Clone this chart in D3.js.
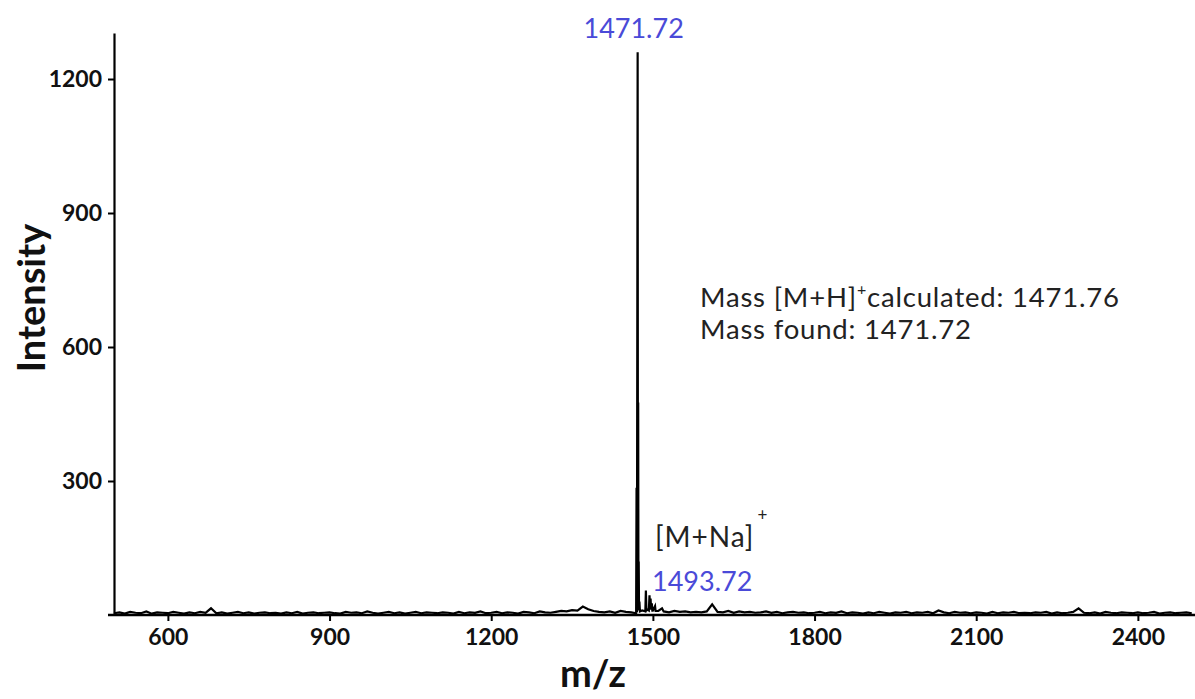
<!DOCTYPE html>
<html>
<head>
<meta charset="utf-8">
<script src="https://cdn.jsdelivr.net/npm/d3@7/dist/d3.min.js"></script>
<style>
  body { margin: 0; background: #fff; }
  svg { display: block; }
  .tick text { font-family: Lato, "Open Sans", sans-serif; font-weight: 700; font-size: 23px; fill: #111; }
</style>
</head>
<body>
<svg id="chart"></svg>
<script>
// baseline noise, one value every 10 m/z from 500 to 2500
var noiseStart = 500, noiseStep = 10;
var noise = [
  4,6,3,7,5,4,8,3,6,5,
  4,7,5,3,6,4,7,5,15,4,
  6,3,5,7,4,6,3,5,6,4,
  5,3,6,4,7,3,5,6,4,5,
  6,4,3,7,5,6,4,8,5,3,
  5,7,4,6,3,5,7,4,6,5,
  4,6,5,3,7,4,6,5,8,4,
  5,7,4,6,5,3,7,6,4,8,
  6,5,7,9,8,11,10,19,13,9,
  7,6,8,5,9,7,6,8,10,12,
  10,9,8,6,9,7,8,6,7,6,
  8,24,7,6,9,5,8,6,7,5,
  6,8,5,7,4,6,7,5,6,4,
  5,7,4,6,5,8,4,6,5,3,
  6,4,7,5,3,6,5,7,4,6,
  5,7,4,10,6,4,7,5,6,4,
  6,5,3,7,4,6,5,7,4,5,
  4,6,5,7,3,6,4,5,7,15,
  5,4,6,3,7,5,4,6,5,4,
  6,4,5,7,3,5,6,4,5,6,
  4
];

// molecular ion cluster
var clusterMz = [1468.9, 1469.7, 1470.4, 1471.72, 1472.3, 1472.72, 1473.2, 1473.7, 1474.3, 1475, 1476,
                 1486, 1487, 1488, 1492.5, 1493.72, 1494.7, 1495.7, 1496.7, 1498, 1499, 1504, 1505, 1517];
var clusterInt = [4, 285, 6, 1260, 20, 476, 15, 120, 10, 30, 8,
                  8, 55, 10, 10, 44, 15, 37, 12, 26, 10, 20, 9, 15];

var xTicks = [600, 900, 1200, 1500, 1800, 2100, 2400];
var yTicks = [300, 600, 900, 1200];

var W = 1195, H = 699;
var svg = d3.select("#chart").attr("width", W).attr("height", H);

var x = d3.scaleLinear().domain([500, 2506]).range([114, 1195]);
var y = d3.scaleLinear().domain([0, 1303]).range([615, 33]);

// merge the points into one spectrum
var pts = noise.map(function (v, i) { return { mz: noiseStart + i * noiseStep, v: v }; });
clusterMz.forEach(function (m, i) { pts.push({ mz: m, v: clusterInt[i] }); });
pts.sort(function (a, b) { return a.mz - b.mz; });

var line = d3.line()
  .x(function (d) { return x(d.mz); })
  .y(function (d) { return y(d.v); });

svg.append("path")
  .datum(pts)
  .attr("fill", "none")
  .attr("stroke", "#000")
  .attr("stroke-width", 2.2)
  .attr("d", line);

// axes
var fmt = d3.format("d");
var xAxis = svg.append("g")
  .attr("transform", "translate(0," + y(0) + ")")
  .call(d3.axisBottom(x).tickValues(xTicks).tickFormat(fmt).tickSize(6).tickPadding(8).tickSizeOuter(0));
xAxis.select(".domain").remove();
xAxis.selectAll(".tick line").attr("stroke", "#000").attr("stroke-width", 2);
svg.append("line")
  .attr("x1", 108).attr("x2", W)
  .attr("y1", y(0)).attr("y2", y(0))
  .attr("stroke", "#000").attr("stroke-width", 2.4);

var yAxis = svg.append("g")
  .attr("transform", "translate(" + x(500) + ",0)")
  .call(d3.axisLeft(y).tickValues(yTicks).tickFormat(fmt).tickSize(6).tickPadding(6).tickSizeOuter(0));
yAxis.select(".domain").attr("stroke", "#000").attr("stroke-width", 2.2);
yAxis.selectAll(".tick line").attr("stroke", "#000").attr("stroke-width", 2);

// axis titles
svg.append("text")
  .attr("transform", "translate(45,298) rotate(-90)")
  .attr("text-anchor", "middle")
  .style("font-family", "Lato, 'Open Sans', sans-serif")
  .style("font-weight", 700)
  .style("font-size", "38px")
  .attr("fill", "#111")
  .text("Intensity");

svg.append("text")
  .attr("x", 593).attr("y", 687)
  .attr("text-anchor", "middle")
  .style("font-family", "Lato, 'Open Sans', sans-serif")
  .style("font-weight", 700)
  .style("font-size", "38px")
  .attr("fill", "#111")
  .text("m/z");

// peak labels
var blue = "#4a4ad8";
svg.append("text")
  .attr("x", x(1471.72) - 4).attr("y", 38)
  .attr("text-anchor", "middle")
  .style("font-family", "Lato, 'Open Sans', sans-serif")
  .style("font-size", "27px")
  .attr("fill", blue)
  .text("1471.72");

svg.append("text")
  .attr("x", 652).attr("y", 591)
  .style("font-family", "Lato, 'Open Sans', sans-serif")
  .style("font-size", "27px")
  .attr("fill", blue)
  .text("1493.72");

var na = svg.append("text")
  .attr("x", 655).attr("y", 547)
  .style("font-family", "Lato, 'Open Sans', sans-serif")
  .style("font-size", "28px")
  .style("letter-spacing", "1px")
  .attr("fill", "#222");
na.append("tspan").text("[M+Na]");
na.append("tspan").attr("dx", 3).attr("dy", -26).style("font-size", "17px").text("+");

// mass annotation
var t1 = svg.append("text")
  .attr("x", 700).attr("y", 307)
  .style("font-family", "Lato, 'Open Sans', sans-serif")
  .style("font-size", "27.5px")
  .style("letter-spacing", "0.8px")
  .attr("fill", "#222");
t1.append("tspan").text("Mass [M+H]");
t1.append("tspan").attr("dy", -12).style("font-size", "16px").text("+");
t1.append("tspan").attr("dy", 12).text("calculated: 1471.76");

svg.append("text")
  .attr("x", 700).attr("y", 339)
  .style("font-family", "Lato, 'Open Sans', sans-serif")
  .style("font-size", "27.5px")
  .style("letter-spacing", "0.8px")
  .attr("fill", "#222")
  .text("Mass found: 1471.72");
</script>
</body>
</html>
